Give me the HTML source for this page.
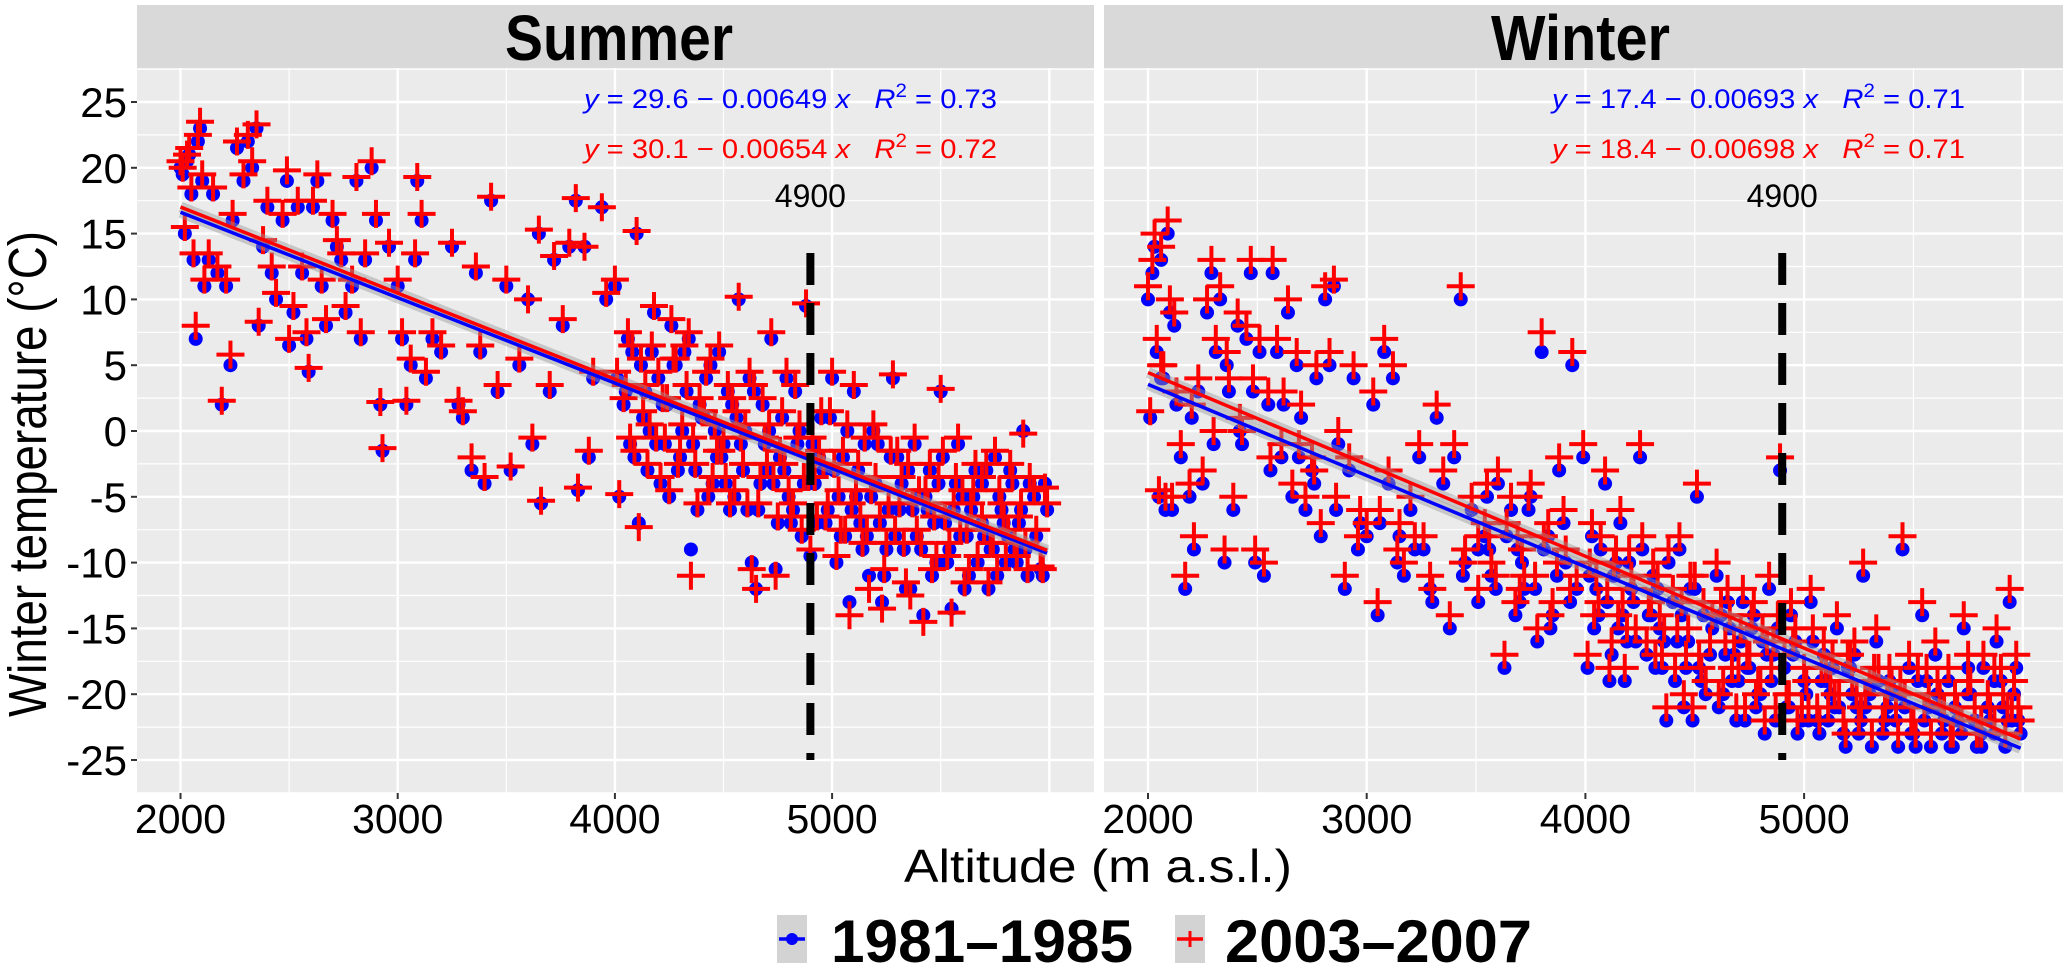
<!DOCTYPE html>
<html><head><meta charset="utf-8"><style>
html,body{margin:0;padding:0;background:#fff;}
svg{display:block;font-family:"Liberation Sans",Arial,sans-serif;}
</style></head><body>
<svg id="chart" width="2067" height="969" viewBox="0 0 2067 969" xmlns="http://www.w3.org/2000/svg">
<g id="root"></g>
</svg>
<script>
// ---------- data ----------
const xTicks = [2000, 3000, 4000, 5000];
const yTicks = [-25, -20, -15, -10, -5, 0, 5, 10, 15, 20, 25];
const yTickLabels = ["-25","-20","-15","-10","-5","0","5","10","15","20","25"];
const seriesNames = ["1981\u20131985", "2003\u20132007"];
const markLine = 4900;

const S_alt = [2000,2010,2020,2030,2040,2050,2060,2070,2080,2090,2100,2110,2130,2150,2170,2190,2210,2230,2240,2260,2290,2310,2330,2350,2360,2380,2400,2420,2440,2470,2490,2500,2520,2540,2560,2580,2590,2610,2630,2650,2670,2700,2720,2740,2760,2790,2810,2830,2850,2880,2900,2920,2930,2960,3000,3020,3040,3060,3080,3090,3110,3130,3160,3200,3250,3280,3300,3340,3360,3380,3400,3430,3460,3500,3520,3560,3600,3620,3650,3660,3700,3720,3760,3790,3820,3830,3860,3880,3900,3940,3960,4000,4020,4050,4080,4100,4110,4130,4150,4180,4200,4230,4260,4280,4300,4330,4350,4380,4400,4420,4450,4480,4500,4520,4550,4570,4600,4630,4650,4680,4700,4720,4740,4760,4800,4830,4860,4880,4900,4920,4950,4980,5000,5020,5050,5080,5100,5130,5150,5170,5200,5230,5260,5280,5300,5330,5360,5400,5420,5450,5480,5500,5520,5550,5580,5600,5630,5660,5700,5720,5750,5780,5800,5830,5860,5880,5900,5930,5960,5980,
4040,4070,4120,4160,4210,4240,4290,4320,4360,4390,4430,4460,4490,4530,4560,4590,4620,4660,4690,4730,4770,4810,4840,4870,4940,4970,5010,5060,5110,5160,5210,5250,5310,5350,5390,5440,5490,5540,5590,5640,5690,5740,5790,5840,
4010,4060,4090,4140,4170,4190,4220,4250,4270,4310,4340,4370,4410,4440,4470,4510,4540,4580,4610,4640,4670,4710,4750,4780,4790,4820,4850,4890,4910,4930,4960,4990,5030,5040,5070,5090,5120,5140,5180,5190,5220,5240,5270,5290,5320,5340,5370,5380,5410,5430,5460,5470,5510,5530,5560,5570,5610,5620,5650,5670,5690,5710,5730,5760,5770,5810,5820,5850,5870,5890,5910,5940,5970,5990];
const S_81 = [20,19.5,15,20.5,21,18,13,7,22,23,19,11,13,18,12,2,11,5,16,21.5,19,22,20,23,8,14,17,12,10,16,19,6.5,9,17,12,7,4.5,17,19,11,8,16,14,13,9,11,19,7,13,20,16,2,-1.5,14,11,7,2,5,13,19,16,4,7,6,14,2,1,-3,12,6,-4,17.5,3,11,-3,5,10,-1,15,-5.5,3,13,8,14,17.5,-4.5,14,-2,4,17,10,11,-5,3,6,15,-7,1,-3,9,4,-1,8,5,-2,3,-9,-6,1,4,-4,6,-1,3,-5,10,0,-10,-12,2,-3,7,-10.5,-2,-5,3,-8,9.5,-9.5,-4,1,-6,4,-10,-2,-13,3,-7,-1,-11,-4,-13,-6,4,-2,-9,-12,-5,-14,-3,-10,3,-7,-13.5,-1,-5,-11,-3,-8,-12,-2,-6,-10,-4,-7,0,-11,-5,-10.5,-4,
2,-1,5,0,-4,2,-3,6,-1,2,-5,0,-2,-6,1,-3,4,-6,-1,-4,1,-7,-1,-4,-2,-7,-3,-8,-5,-8,-1,-9,-6,-3,-8,-6,-4,-9,-8,-6,-4,-9,-7,-9,
4,7,-2,3,6,-1,2,-5,5,0,7,-3,1,5,-2,-4,2,-1,-6,3,-4,0,-7,-3,4,-6,0,-4,-1,-7,-3,1,-5,-8,0,-6,-3,-9,-5,0,-7,-11,-2,-8,-4,-12,-6,-1,-9,-5,-11,-7,-2,-10,-6,-4,-12,-8,-5,-10,-7,-3,-9,-11,-5,-8,-3,-10,-6,-9,-4,-8,-11,-6];
const S_03 = [20.5,20,15.5,21,21.5,18.5,13.5,8,22.5,23.5,19.5,11.5,13.5,18.5,12.5,2.3,11.5,5.8,16.5,22,19.5,22.5,20.5,23.3,8.3,14.5,17.5,12.5,10.5,16.5,19.8,7,9.5,17.5,12.5,7.5,4.8,17.5,19.5,11.5,8.5,16.5,14.5,13.5,9.5,11.5,19.3,7.5,13.5,20.5,16.5,2.2,-1.3,14.3,11.5,7.5,2.3,5.5,13.5,19.3,16.5,4.5,7.5,6.5,14.3,2.3,1.5,-2,12.5,6.5,-3.5,17.8,3.5,11.5,-2.7,5.5,10,-0.5,15.3,-5.3,3.5,13.3,8.5,14.3,17.7,-4.3,14,-1.5,4.5,17,10.5,11.5,-4.8,3.5,6.5,15.2,-7.3,1.5,-2.5,9.5,4.5,-0.5,8.5,5.5,-1.5,3.5,-11,-5.5,1.5,4.5,-3.5,6.5,-0.5,3.5,-4.5,10.2,0.5,-10.5,-12,2.5,-2.5,7.5,-11,-1.5,-4.5,3.5,-7.5,9.7,-9,-3.5,1.5,-5.5,4.5,-9.5,-1.5,-14,3.5,-6.5,-0.5,-12,-3.5,-13.5,-5.5,4.3,-1.5,-8.5,-12.5,-4.5,-14.5,-2.5,-9.5,3.2,-6.5,-13.8,-0.5,-4.5,-10.5,-2.5,-7.5,-11.5,-1.5,-5.5,-9.5,-3.5,-6.5,-0.2,-10.5,-4.5,-10.3,-4.3,
2.5,-0.5,5.5,0.5,-3.5,2.5,-2.5,6.5,-0.5,2.5,-4.5,0.5,-1.5,-5.5,1.5,-2.5,4.5,-5.5,-0.5,-3.5,1.5,-6.5,-0.5,-3.5,-1.5,-6.5,-2.5,-7.5,-4.5,-7.5,-0.5,-8.5,-5.5,-2.5,-7.5,-5.5,-3.5,-8.5,-7.5,-5.5,-3.5,-8.5,-6.5,-8.5,
4.5,7.5,-1.5,3.5,6.5,-0.5,2.5,-4.5,5.5,0.5,7.5,-2.5,1.5,5.5,-1.5,-3.5,2.5,-0.5,-5.5,3.5,-3.5,0.5,-6.5,-2.5,4.5,-5.5,0.5,-3.5,-0.5,-6.5,-2.5,1.5,-4.5,-7.5,0.5,-5.5,-2.5,-8.5,-4.5,0.5,-6.5,-10.5,-1.5,-7.5,-3.5,-11.5,-5.5,-0.5,-8.5,-4.5,-10.5,-6.5,-1.5,-9.5,-5.5,-3.5,-11.5,-7.5,-4.5,-9.5,-6.5,-2.5,-8.5,-10.5,-4.5,-7.5,-2.5,-9.5,-5.5,-8.5,-3.5,-7.5,-10.5,-5.5];

const W_alt = [2000,2010,2020,2030,2040,2050,2060,2070,2080,2090,2100,2110,2130,2150,2170,2190,2210,2230,2250,2270,2290,2310,2330,2350,2370,2390,2410,2430,2450,2470,2490,2510,2530,2550,2570,2590,2610,2640,2660,2680,2700,2720,2750,2770,2790,2810,2830,2850,2870,2900,2920,2940,2970,3000,3030,3050,3080,3100,3120,3150,3170,3200,3240,3260,3290,3320,3350,3380,3400,3430,3450,3480,3510,3540,3570,3600,3630,3660,3690,3720,3750,3780,3800,3830,3850,3880,3910,3940,3960,3990,4010,4030,4060,4090,4110,4130,4160,4190,4220,4250,4280,4310,4340,4370,4400,4430,4460,4490,4510,4540,4570,4600,4630,4660,4690,4720,4750,4780,4810,4840,4870,4890,4910,4940,4970,5000,5030,5060,5090,5120,5150,5180,5210,5240,5270,5300,5330,5360,5390,5420,5450,5480,5510,5540,5570,5600,5630,5660,5700,5730,5760,5790,5820,5850,5880,5910,5940,5960,5980,
4050,4150,4200,4300,4350,4420,4480,4530,4620,4680,4700,4760,4800,4860,4920,4960,5020,5080,5140,5200,5260,5320,5380,5440,5500,5560,5620,5680,5750,5810,5870,5930,2060,2120,2200,2300,2360,2420,2480,2560,2620,2690,2760,2860,2960,3060,3140,3220,3300,3440,3560,3700,
3510,3550,3590,3640,3680,3710,3740,3770,3810,3840,3870,3900,3930,4020,4040,4070,4100,4120,4140,4170,4180,4210,4230,4260,4290,4320,4330,4360,4380,4410,4440,4450,4470,4500,4520,4550,4580,4610,4640,4650,4670,4710,4730,4740,4770,4790,4820,4830,4850,4880,4930,4950,4990,5010,5040,5070,5100,5110,5130,5160,5190,5220,5230,5250,5280,5310,5340,5370,5400,5430,5460,5490,5520,5550,5580,5610,5640,5670,5690,5720,5750,5780,5810,5840,5870,5900,5920,5950,5970,5990];
const W_81 = [10,1,12,14,6,-5,13,4,-6,15,9,-6,2,-2,-12,-5,-9,3,-4,9,12,6,10,-10,3,-6,8,-1,7,12,-10,6,-11,2,12,6,-2,9,-5,5,1,-6,-3,4,-8,10,5,11,-1,-12,-3,4,-7,-8,2,-14,6,-4,4,-8,-11,-6,-2,-9,-12,1,-4,-15,-2,10,-10,-6,-13,-8,-11,-4,-18,-6,-9,-12,-5,-16,6,-8,-14,-3,-10,5,-12,-2,-18,-8,-14,-4,-19,-11,-7,-16,-13,-2,-17,-11,-15,-22,-13,-9,-18,-22,-5,-14,-17,-11,-20,-15,-22,-13,-18,-21,-16,-12,-22,-3,-18,-14,-23,-19,-13,-22,-17,-20,-15,-23,-18,-21,-11,-20,-16,-23,-19,-22,-9,-18,-24,-14,-21,-17,-23,-19,-22,-15,-20,-24,-18,-22,-16,-21,-13,-20,-22,
-12,-15,-10,-14,-18,-16,-12,-19,-14,-17,-19,-15,-20,-17,-21,-16,-22,-19,-21,-18,-22,-19,-21,-20,-23,-19,-21,-24,-20,-23,-19,-22,4,8,1,-1,5,0,3,-3,2,-2,-4,-6,-9,-7,-10,-9,-13,-11,-9,-13,
-9,-5,-12,-8,-14,-10,-6,-12,-9,-15,-11,-7,-13,-11,-15,-9,-13,-17,-10,-14,-19,-12,-16,-9,-14,-18,-12,-16,-10,-19,-14,-21,-16,-12,-18,-20,-15,-21,-17,-13,-19,-16,-22,-18,-14,-20,-23,-17,-19,-15,-21,-17,-22,-20,-16,-23,-19,-22,-18,-21,-24,-20,-17,-23,-21,-24,-19,-22,-20,-24,-21,-23,-19,-22,-24,-20,-22,-24,-21,-23,-18,-22,-24,-21,-23,-19,-24,-22,-18,-23];
const W_03 = [11,1.5,13,15,7,-4.5,14,5,-5,16,10,-5,3,-1,-11,-4,-8,4,-3,10,13,7,11,-9,4,-5,9,0,8,13,-9,7,-10,3,13,7,-1,10,-4,6,2,-5,-2,5,-7,11,6,11.5,0,-11,-2,5,-6,-7,3,-13,7,-3,5,-7,-10,-5,-1,-8,-11,2,-3,-14,-1,11,-9,-5,-12,-7,-10,-3,-17,-5,-8,-11,-4,-15,7.5,-7,-13,-2,-9,6,-11,-1,-17,-7,-13,-3,-18,-10,-6,-15,-12,-1,-16,-10,-14,-21,-12,-8,-17,-21,-4,-13,-16,-10,-19,-14,-21,-12,-17,-20,-15,-11,-21,-2,-17,-13,-22,-18,-12,-21,-16,-19,-14,-22,-17,-20,-10,-19,-15,-22,-18,-21,-8,-17,-23,-13,-20,-16,-22,-18,-21,-14,-19,-23,-17,-21,-15,-20,-12,-19,-21,
-11,-14,-9,-13,-17,-15,-11,-18,-13,-16,-18,-14,-19,-16,-20,-15,-21,-18,-20,-17,-21,-18,-20,-19,-22,-18,-20,-23,-19,-22,-18,-21,5,9,2,0,6,1,4,-2,3,-1,-3,-5,-8,-6,-9,-8,-12,-10,-8,-12,
-8,-4,-11,-7,-13,-9,-5,-11,-8,-14,-10,-6,-12,-10,-14,-8,-12,-16,-9,-13,-18,-11,-15,-8,-13,-17,-11,-15,-9,-18,-13,-20,-15,-11,-17,-19,-14,-20,-16,-12,-18,-15,-21,-17,-13,-19,-22,-16,-18,-14,-20,-16,-21,-19,-15,-22,-18,-21,-17,-20,-23,-19,-16,-22,-20,-23,-18,-21,-19,-23,-20,-22,-18,-21,-23,-19,-21,-23,-20,-22,-17,-21,-23,-20,-22,-18,-23,-21,-17,-22];

const S_intercept = [29.6, 30.1];
const S_slope = [-0.00649, -0.00654];
const S_r2 = ["0.73", "0.72"];
const W_intercept = [17.4, 18.4];
const W_slope = [-0.00693, -0.00698];
const W_r2 = ["0.71", "0.71"];

// ---------- layout ----------
const NS = "http://www.w3.org/2000/svg";
const root = document.getElementById('root');
function mk(tag, attrs, parent, text) {
  const e = document.createElementNS(NS, tag);
  for (const k in attrs) e.setAttribute(k, attrs[k]);
  if (text !== undefined) e.textContent = text;
  (parent || root).appendChild(e);
  return e;
}
const yTop = 68, yBot = 793;
function yScale(t) { return 102 + (25 - t) * 13.16; }
const panels = [
  {key: 'summer', title: 'Summer', left: 137, right: 1094, x0: 180.5, k: 0.2172, titleX: 505, titleW: 228,
   alt: S_alt, s1: S_81, s2: S_03, ic: S_intercept, sl: S_slope, r2: S_r2, eqX: 584},
  {key: 'winter', title: 'Winter', left: 1104, right: 2063, x0: 1148, k: 0.2187, titleX: 1491, titleW: 179,
   alt: W_alt, s1: W_81, s2: W_03, ic: W_intercept, sl: W_slope, r2: W_r2, eqX: 1552}
];
const colors = ['#0000ff', '#ff0000'];

panels.forEach(p => {
  const xs = a => p.x0 + (a - 2000) * p.k;
  const g = mk('g', {});
  
  
  const strip = mk('rect', {x: p.left, y: 5, width: p.right - p.left, height: yTop - 5, fill: '#d9d9d9'}, g);
  
  
  const st = mk('text', {x: p.titleX, y: 60, 'font-size': 64, 'font-weight': 'bold', textLength: p.titleW, lengthAdjust: 'spacingAndGlyphs', fill: '#000'}, g, p.title);
  
  
  const bg = mk('rect', {x: p.left, y: yTop, width: p.right - p.left, height: yBot - yTop, fill: '#ebebeb'}, g);
  
  
  const grid = mk('g', {stroke: '#ffffff'}, g);
  
  
  for (let t = -27.5; t <= 27.5; t += 5) {
    const y = yScale(t); if (y > yTop && y < yBot) mk('line', {x1: p.left, x2: p.right, y1: y, y2: y, 'stroke-width': 1.2}, grid);
  }
  for (let a = 2500; a <= 5500; a += 1000) mk('line', {x1: xs(a), x2: xs(a), y1: yTop, y2: yBot, 'stroke-width': 1.2}, grid);
  yTicks.forEach(t => { const y = yScale(t); mk('line', {x1: p.left, x2: p.right, y1: y, y2: y, 'stroke-width': 2.4}, grid); });
  [2000, 3000, 4000, 5000, 6000].forEach(a => mk('line', {x1: xs(a), x2: xs(a), y1: yTop, y2: yBot, 'stroke-width': 2.4}, grid));
  [p.s1, p.s2].forEach((ser, si) => {
    const sg = mk('g', {}, g);
    
    
    ser.forEach((v, i) => {
      const cx = xs(p.alt[i]), cy = yScale(v);
      if (si === 0) {
        const c = mk('circle', {cx: cx, cy: cy, r: 7, fill: colors[0]}, sg);
        
        
      } else {
        const pl = mk('path', {d: `M${cx-14},${cy}H${cx+14}M${cx},${cy-14}V${cy+14}`, stroke: colors[1], 'stroke-width': 4, fill: 'none'}, sg);
        
        
      }
    });
  });
  [0, 1].forEach(si => {
    const x1 = xs(2000), x2 = xs(5990);
    const y1 = yScale(p.ic[si] + p.sl[si] * 2000), y2 = yScale(p.ic[si] + p.sl[si] * 5990);
    const band = mk('line', {x1: x1, y1: y1, x2: x2, y2: y2, stroke: '#999', 'stroke-opacity': 0.45, 'stroke-width': 11}, g);
    
    
  });
  [0, 1].forEach(si => {
    const x1 = xs(2000), x2 = xs(5990);
    const y1 = yScale(p.ic[si] + p.sl[si] * 2000), y2 = yScale(p.ic[si] + p.sl[si] * 5990);
    const ln = mk('line', {x1: x1, y1: y1, x2: x2, y2: y2, stroke: colors[si], 'stroke-width': 3.5}, g);
    
    
  });
  const dl = mk('line', {x1: xs(markLine), x2: xs(markLine), y1: 253, y2: 760, stroke: '#000', 'stroke-width': 8, 'stroke-dasharray': '32 18'}, g);
  
  
  const ml = mk('text', {x: xs(markLine), y: 207, 'font-size': 32, 'text-anchor': 'middle', fill: '#000'}, g, String(markLine));
  
  
  [0, 1].forEach(si => {
    const eq = mk('text', {x: p.eqX, y: si === 0 ? 108 : 158, 'font-size': 27, fill: colors[si], textLength: 413, lengthAdjust: 'spacingAndGlyphs'}, g);
    
    
    mk('tspan', {'font-style': 'italic'}, eq, 'y');
    mk('tspan', {}, eq, ' = ' + p.ic[si].toFixed(1) + ' \u2212 ' + Math.abs(p.sl[si]).toFixed(5) + ' ');
    mk('tspan', {'font-style': 'italic'}, eq, 'x');
    mk('tspan', {}, eq, '\u00a0\u00a0\u00a0');
    mk('tspan', {'font-style': 'italic'}, eq, 'R');
    mk('tspan', {dy: -11, 'font-size': 19}, eq, '2');
    mk('tspan', {dy: 11}, eq, ' = ' + p.r2[si]);
  });
  const xt = mk('g', {}, g);
  
  
  xTicks.forEach(a => {
    mk('line', {x1: xs(a), x2: xs(a), y1: yBot, y2: yBot + 6, stroke: '#333', 'stroke-width': 2}, xt);
    const tl = mk('text', {x: xs(a), y: 833, 'font-size': 41, 'text-anchor': 'middle', fill: '#000'}, xt, String(a));
    
    
  });
});

const ya = mk('g', {});


yTicks.forEach((t, i) => {
  const y = yScale(t);
  mk('line', {x1: 131, x2: 137, y1: y, y2: y, stroke: '#333', 'stroke-width': 2}, ya);
  const tl = mk('text', {x: 127, y: y + 15, 'font-size': 42, 'text-anchor': 'end', fill: '#000'}, ya, yTickLabels[i]);
  
  
});
const yt = mk('text', {x: 0, y: 0, 'font-size': 54, 'text-anchor': 'middle', fill: '#000', transform: 'translate(46,474) rotate(-90)', textLength: 486, lengthAdjust: 'spacingAndGlyphs'}, root, 'Winter temperature (\u00b0C)');


const xtt = mk('text', {x: 1098, y: 882, 'font-size': 46, 'text-anchor': 'middle', fill: '#000', textLength: 388, lengthAdjust: 'spacingAndGlyphs'}, root, 'Altitude (m a.s.l.)');



const lg = mk('g', {});


const legX = [777, 1175], legTX = [831, 1225], legTW = [302, 307];
seriesNames.forEach((n, i) => {
  const e = mk('g', {}, lg);
  
  
  mk('rect', {x: legX[i], y: 915, width: 30, height: 48, fill: '#d3d3d3'}, e);
  const cx = legX[i] + 15, cy = 939;
  if (i === 0) {
    mk('circle', {cx: cx, cy: cy, r: 6, fill: colors[0]}, e);
    mk('line', {x1: cx - 13, x2: cx + 13, y1: cy, y2: cy, stroke: colors[0], 'stroke-width': 3.5}, e);
  } else {
    mk('path', {d: `M${cx-8},${cy}H${cx+8}M${cx},${cy-8}V${cy+8}`, stroke: colors[1], 'stroke-width': 3, fill: 'none'}, e);
    mk('line', {x1: cx - 13, x2: cx + 13, y1: cy, y2: cy, stroke: colors[1], 'stroke-width': 3.5}, e);
  }
  mk('text', {x: legTX[i], y: 962, 'font-size': 60, 'font-weight': 'bold', fill: '#000', textLength: legTW[i], lengthAdjust: 'spacingAndGlyphs'}, e, n);
});
</script>
</body></html>
